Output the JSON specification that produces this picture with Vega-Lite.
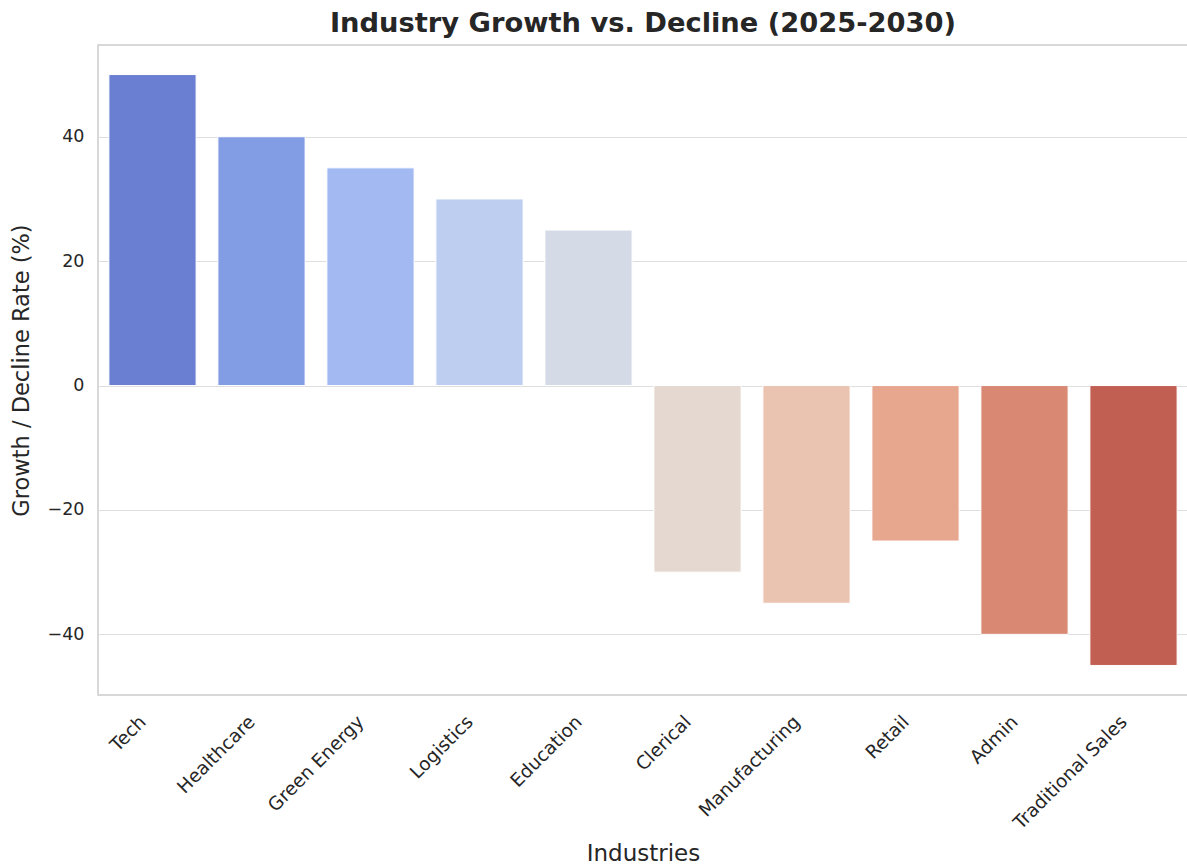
{
  "$schema": "https://vega.github.io/schema/vega-lite/v6.json",
  "autosize": {"type": "none"},
  "padding": {"left": 98, "top": 45, "right": 0, "bottom": 170},
  "width": 1090,
  "height": 650,
  "background": "white",
  "title": {
    "text": "Industry Growth vs. Decline (2025-2030)",
    "font": "DejaVu Sans",
    "fontSize": 27.3,
    "fontWeight": "bold",
    "color": "#262626",
    "anchor": "middle",
    "offset": 8
  },
  "config": {
    "view": {"stroke": "#cccccc", "strokeWidth": 1.5},
    "font": "DejaVu Sans"
  },
  "data": {
    "values": [
      {"industry": "Tech", "rate": 50, "color": "#6A7FD2"},
      {"industry": "Healthcare", "rate": 40, "color": "#839DE4"},
      {"industry": "Green Energy", "rate": 35, "color": "#A2B9F2"},
      {"industry": "Logistics", "rate": 30, "color": "#BDCEF0"},
      {"industry": "Education", "rate": 25, "color": "#D5DBE6"},
      {"industry": "Clerical", "rate": -30, "color": "#E4D8D0"},
      {"industry": "Manufacturing", "rate": -35, "color": "#EBC4B1"},
      {"industry": "Retail", "rate": -25, "color": "#E6A78E"},
      {"industry": "Admin", "rate": -40, "color": "#D98873"},
      {"industry": "Traditional Sales", "rate": -45, "color": "#C25F53"}
    ]
  },
  "mark": {"type": "bar", "stroke": "white", "strokeWidth": 1},
  "encoding": {
    "x": {
      "field": "industry",
      "type": "nominal",
      "sort": null,
      "scale": {"paddingInner": 0.2, "paddingOuter": 0.1},
      "axis": {
        "title": "Industries",
        "titleFont": "DejaVu Sans",
        "titleFontSize": 23,
        "titleFontWeight": "normal",
        "titleColor": "#262626",
        "titlePadding": 10,
        "labelAngle": -45,
        "labelAlign": "right",
        "labelBaseline": "top",
        "labelFontSize": 18.5,
        "labelColor": "#262626",
        "labelPadding": 17,
        "labelOffset": -16,
        "ticks": false,
        "domain": false,
        "grid": false
      }
    },
    "y": {
      "field": "rate",
      "type": "quantitative",
      "scale": {"domain": [-49.75, 54.75], "nice": false, "zero": false},
      "axis": {
        "title": "Growth / Decline Rate (%)",
        "titleFont": "DejaVu Sans",
        "titleFontSize": 22.5,
        "titleFontWeight": "normal",
        "titleColor": "#262626",
        "titlePadding": 14,
        "values": [-40, -20, 0, 20, 40],
        "labelFontSize": 17.5,
        "labelColor": "#262626",
        "labelPadding": 14,
        "ticks": false,
        "domain": false,
        "grid": true,
        "gridColor": "#dedede",
        "gridWidth": 1
      }
    },
    "color": {"field": "color", "type": "nominal", "scale": null}
  }
}
